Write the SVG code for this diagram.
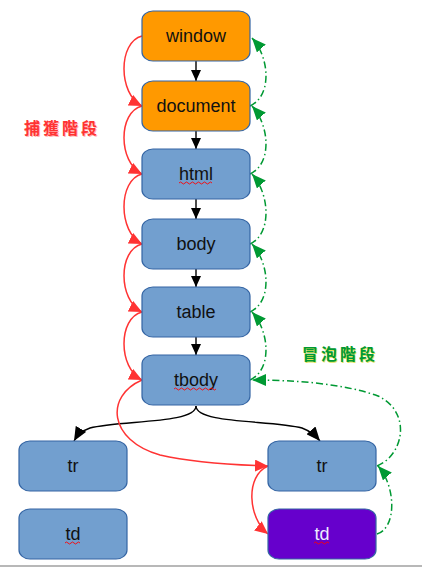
<svg xmlns="http://www.w3.org/2000/svg" width="422" height="567" viewBox="0 0 422 567">
<style>
.box{stroke:#3465a4;stroke-width:1.2}
.orange{fill:#ff9900}
.blue{fill:#729fcf}
.purple{fill:#6600cc}
.lbl{font-family:"Liberation Sans",Arial,sans-serif;font-size:18px;text-anchor:middle;fill:#111}
.blk{fill:none;stroke:#000;stroke-width:1.4}
.red{fill:none;stroke:#ff3333;stroke-width:1.5}
.grn{fill:none;stroke:#009933;stroke-width:1.5;stroke-dasharray:7 3 1.5 3}
.sq{fill:none;stroke:#ff0000;stroke-width:0.9}
.cjk{font-family:"Noto Sans CJK TC","Noto Sans CJK SC",sans-serif;font-size:16px;font-weight:bold;letter-spacing:3px}
</style>
<defs>
<marker id="ab" markerUnits="userSpaceOnUse" markerWidth="12" markerHeight="10" refX="11" refY="5" orient="auto"><path d="M0,0 L11,5 L0,10 z" fill="#000"/></marker>
<marker id="ab2" markerUnits="userSpaceOnUse" markerWidth="15" markerHeight="12" refX="14" refY="6" orient="auto"><path d="M0,0 L14,6 L0,12 z" fill="#000"/></marker>
<marker id="ar" markerUnits="userSpaceOnUse" markerWidth="14" markerHeight="12" refX="13" refY="6" orient="auto"><path d="M0,0 L13,6 L0,12 z" fill="#ff3333"/></marker>
<marker id="ag" markerUnits="userSpaceOnUse" markerWidth="15" markerHeight="12" refX="14" refY="6" orient="auto"><path d="M0,0 L14,6 L0,12 z" fill="#009933"/></marker>
</defs>
<rect x="0" y="0" width="422" height="567" fill="#fff"/>
<line x1="0" y1="566" x2="422" y2="566" stroke="#a0a0a0" stroke-width="1.5"/>

<g id="connectors">
<line class="blk" x1="196" y1="61" x2="196" y2="81" marker-end="url(#ab)"/>
<line class="blk" x1="196" y1="131" x2="196" y2="149" marker-end="url(#ab)"/>
<line class="blk" x1="196" y1="199" x2="196" y2="219" marker-end="url(#ab)"/>
<line class="blk" x1="196" y1="269" x2="196" y2="287" marker-end="url(#ab)"/>
<line class="blk" x1="196" y1="337" x2="196" y2="355" marker-end="url(#ab)"/>
<path class="blk" d="M196,406 C196,424 120,420 90,428 C82,431 78,434 74,441" marker-end="url(#ab2)"/>
<path class="blk" d="M196,406 C196,424 272,420 302,428 C310,431 314,434 320,441" marker-end="url(#ab2)"/>

<path class="red" d="M142,36 C118,42 118,94 142,106" marker-end="url(#ar)"/>
<path class="red" d="M142,106 C118,112 118,162 142,174" marker-end="url(#ar)"/>
<path class="red" d="M142,174 C118,180 118,232 142,244" marker-end="url(#ar)"/>
<path class="red" d="M142,244 C118,250 118,300 142,312" marker-end="url(#ar)"/>
<path class="red" d="M142,312 C118,318 118,368 142,380" marker-end="url(#ar)"/>
<path class="red" d="M142,380 C105,396 108,440 160,455 C195,463 235,465 268,466" marker-end="url(#ar)"/>
<path class="red" d="M268,466 C245,476 248,518 268,534" marker-end="url(#ar)"/>

<path class="grn" d="M250,106 C272,96 270,58 252,38" marker-end="url(#ag)"/>
<path class="grn" d="M250,174 C272,164 270,126 252,106" marker-end="url(#ag)"/>
<path class="grn" d="M250,244 C272,234 270,194 252,174" marker-end="url(#ag)"/>
<path class="grn" d="M250,312 C272,302 270,264 252,244" marker-end="url(#ag)"/>
<path class="grn" d="M250,380 C272,370 270,332 252,312" marker-end="url(#ag)"/>
<path class="grn" d="M377,466 C404,455 412,412 378,396 C342,383 292,380 252,380" marker-end="url(#ag)"/>
<path class="grn" d="M377,534 C397,528 396,486 378,466" marker-end="url(#ag)"/>
</g>

<g id="window"><rect class="box orange" x="142" y="11" width="108" height="50" rx="11" ry="9"/><text class="lbl" x="196" y="42">window</text></g>
<g id="document"><rect class="box orange" x="142" y="81" width="108" height="50" rx="11" ry="9"/><text class="lbl" x="196" y="112">document</text></g>
<g id="html"><rect class="box blue" x="142" y="149" width="108" height="50" rx="11" ry="9"/><text class="lbl" x="196" y="180">html</text><path class="sq" d="M179,183 q1.5,-2 3,0 t3,0 t3,0 t3,0 t3,0 t3,0 t3,0 t3,0 t3,0 t3,0 t3,0"/></g>
<g id="body"><rect class="box blue" x="142" y="219" width="108" height="50" rx="11" ry="9"/><text class="lbl" x="196" y="250">body</text></g>
<g id="table"><rect class="box blue" x="142" y="287" width="108" height="50" rx="11" ry="9"/><text class="lbl" x="196" y="318">table</text></g>
<g id="tbody"><rect class="box blue" x="142" y="355" width="108" height="50" rx="11" ry="9"/><text class="lbl" x="196" y="386">tbody</text><path class="sq" d="M174,389 q1.5,-2 3,0 t3,0 t3,0 t3,0 t3,0 t3,0 t3,0 t3,0 t3,0 t3,0 t3,0 t3,0 t3,0 t3,0"/></g>
<g id="tr-left"><rect class="box blue" x="19" y="441" width="108" height="50" rx="11" ry="9"/><text class="lbl" x="73" y="472">tr</text></g>
<g id="td-left"><rect class="box blue" x="19" y="509" width="108" height="50" rx="11" ry="9"/><text class="lbl" x="73" y="540">td</text><path class="sq" d="M65,543 q1.5,-2 3,0 t3,0 t3,0 t3,0 t3,0"/></g>
<g id="tr-right"><rect class="box blue" x="268" y="441" width="108" height="50" rx="11" ry="9"/><text class="lbl" x="322" y="472">tr</text></g>
<g id="td-right"><rect class="box purple" x="268" y="509" width="108" height="50" rx="11" ry="9"/><text class="lbl" x="322" y="540" style="fill:#eeeeff">td</text><path class="sq" d="M314,543 q1.5,-2 3,0 t3,0 t3,0 t3,0 t3,0"/></g>

<g id="capture-label">
<text class="cjk" x="25" y="135" fill="#ff9999" opacity="0.7">捕獲階段</text>
<text class="cjk" x="24" y="134" fill="#ff3333">捕獲階段</text>
</g>
<g id="bubble-label">
<text class="cjk" x="303" y="361" fill="#dddd33" opacity="0.8">冒泡階段</text>
<text class="cjk" x="302" y="360" fill="#009933">冒泡階段</text>
</g>
</svg>
